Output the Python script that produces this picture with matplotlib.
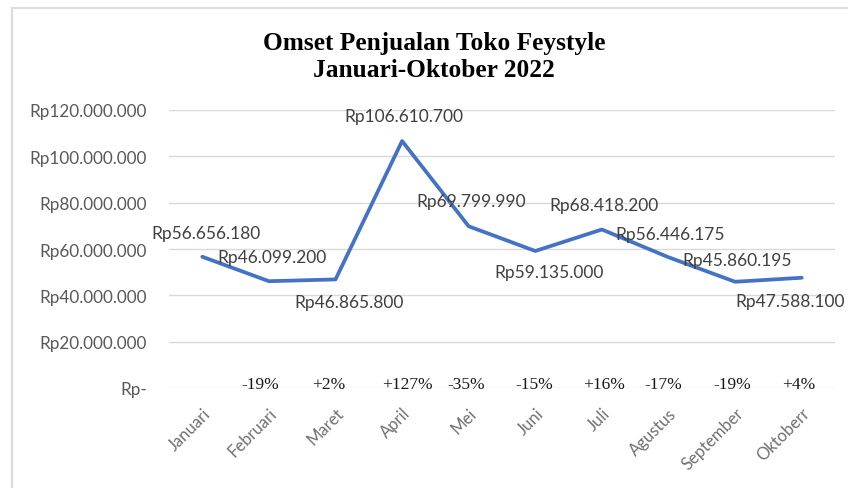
import matplotlib
matplotlib.use("Agg")
import matplotlib.pyplot as plt
from matplotlib.lines import Line2D

# ---- data ----
months = ["Januari", "Februari", "Maret", "April", "Mei", "Juni", "Juli",
          "Agustus", "September", "Oktoberr"]
omset = [56656180, 46099200, 46865800, 106610700, 69799990, 59135000,
         68418200, 56446175, 45860195, 47588100]
omset_labels = ["Rp56.656.180", "Rp46.099.200", "Rp46.865.800", "Rp106.610.700",
                "Rp69.799.990", "Rp59.135.000", "Rp68.418.200", "Rp56.446.175",
                "Rp45.860.195", "Rp47.588.100"]
growth_labels = ["", "-19%", "+2%", "+127%", "-35%", "-15%", "+16%", "-17%",
                 "-19%", "+4%"]
yticks = [0, 20000000, 40000000, 60000000, 80000000, 100000000, 120000000]
ytick_labels = ["Rp-", "Rp20.000.000", "Rp40.000.000", "Rp60.000.000",
                "Rp80.000.000", "Rp100.000.000", "Rp120.000.000"]
title = "Omset Penjualan Toko Feystyle\nJanuari-Oktober 2022"

# ---- style (label offsets in points) ----
label_offsets = [(2.5, 17), (2, 17.5), (10, -16), (1.5, 18), (1.5, 18), (10, -15),
                 (1.5, 17.5), (1, 17), (1.5, 16), (-8.5, -17)]
growth_dx = [0, -6, -5, 3.5, -1.5, -1, 1.5, -3.5, -2, -2]

FONT = "Lato"
GRAY = "#595959"

fig = plt.figure(figsize=(8.48, 4.89), dpi=100)
ax = fig.add_axes([169 / 848, 1 - 389 / 489, (835 - 169) / 848, (389 - 111) / 489])

x = list(range(len(months)))
ax.plot(x, omset, color="#4472C4", lw=2.7, solid_joinstyle="round",
        solid_capstyle="round", zorder=3)

ax.set_xlim(-0.5, len(months) - 0.5)
ax.set_ylim(0, 120000000)
ax.set_yticks(yticks)
ax.set_yticklabels(ytick_labels, fontfamily=FONT, fontsize=12.3, color=GRAY)
ax.tick_params(axis="y", length=0, pad=16)
ax.set_xticks(x)
ax.set_xticklabels(months, rotation=45, ha="right", rotation_mode="anchor",
                   fontfamily=FONT, fontsize=12, color="#707070")
ax.tick_params(axis="x", length=0, pad=12)

ax.grid(axis="y", color="#d9d9d9", lw=1.0)
ax.set_axisbelow(True)
for s in ax.spines.values():
    s.set_visible(False)

for i, (v, t) in enumerate(zip(omset, omset_labels)):
    dx, dy = label_offsets[i]
    ax.annotate(t, (i, v), xytext=(dx, dy), textcoords="offset points",
                ha="center", va="center", fontfamily=FONT, fontsize=12.5,
                color="#404040", zorder=4)

for i, g in enumerate(growth_labels):
    if g:
        ax.annotate(g, (i, 0), xytext=(growth_dx[i], 3), textcoords="offset points",
                    ha="center", va="center", fontfamily="Liberation Serif",
                    fontsize=12.5, color="#1a1a1a", zorder=4)

fig.text(434 / 848, 1 - 57 / 489, title, ha="center", va="center",
         fontfamily="Liberation Serif", fontweight="bold", fontsize=18.3,
         linespacing=1.25)

# chart-area border (top and left)
fig.add_artist(Line2D([12 / 848, 1], [1 - 9 / 489, 1 - 9 / 489],
                      transform=fig.transFigure, color="#dcdcdc", lw=1.6))
fig.add_artist(Line2D([12 / 848, 12 / 848], [0, 1 - 9 / 489],
                      transform=fig.transFigure, color="#dcdcdc", lw=1.6))

fig.savefig("out.png", dpi=100, facecolor="white")
